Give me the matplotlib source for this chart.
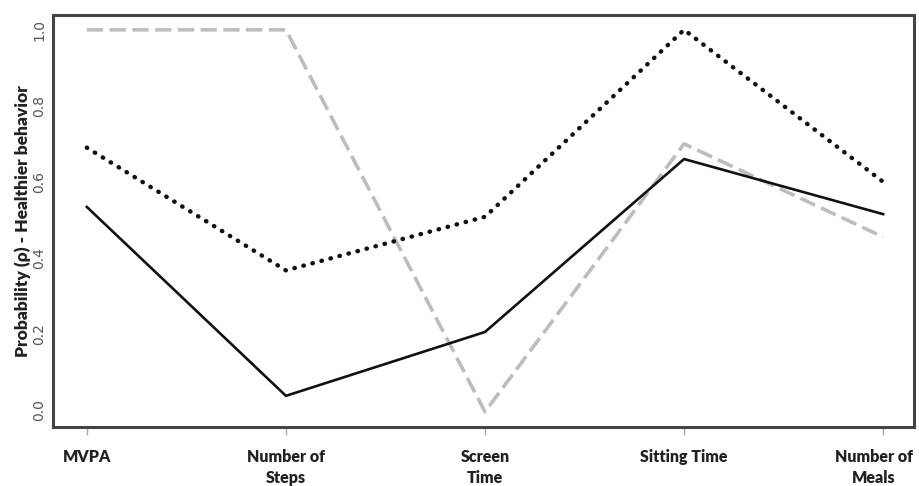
import matplotlib
matplotlib.use("Agg")
import matplotlib.pyplot as plt
from matplotlib.transforms import ScaledTranslation

categories = ["MVPA", "Number of\nSteps", "Screen\nTime", "Sitting Time", "Number of\nMeals"]
solid_vals = [0.534, 0.037, 0.205, 0.66, 0.515]
dotted_vals = [0.69, 0.367, 0.508, 1.0, 0.60]
dashed_vals = [1.0, 1.0, -0.005, 0.70, 0.455]
yticks = [0.0, 0.2, 0.4, 0.6, 0.8, 1.0]
ytick_labels = ["0.0", "0.2", "0.4", "0.6", "0.8", "1.0"]

fig = plt.figure(figsize=(9.19, 4.86), dpi=100)
ax = fig.add_axes([53/919, 59/486, (914-53)/919, (427-15)/486])

x = list(range(len(categories)))
ax.plot(x, dashed_vals, color="#bdbdbd", lw=2.6, linestyle=(0, (4.5, 1.8)), solid_joinstyle="miter")
ax.plot(x, dotted_vals, color="#111111", lw=3.2, linestyle=(0, (0.1, 2.0)), dash_capstyle="round")
ax.plot(x, solid_vals, color="#111111", lw=1.9)

ax.set_xlim(-0.17, 4.155)
ax.set_ylim(-0.045, 1.039)

ax.set_xticks(x)
ax.set_xticklabels(categories, fontfamily="Lato", fontweight="heavy", fontsize=11.5, color="#222222", linespacing=1.4)
ax.tick_params(axis="x", length=6, width=1.0, color="#aaaaaa", pad=10)
last = ax.get_xticklabels()[-1]
last.set_transform(last.get_transform() + ScaledTranslation(-9/100, 0, fig.dpi_scale_trans))

ax.set_yticks(yticks)
ax.set_yticklabels(ytick_labels, rotation=90, va="center", fontsize=10, color="#555555")
ax.tick_params(axis="y", length=0, pad=5)

ax.set_ylabel("Probability (ρ) - Healthier behavior", fontfamily="Lato", fontweight="heavy", fontsize=12.5, color="#222222", labelpad=1)

for s in ax.spines.values():
    s.set_linewidth(2.2)
    s.set_color("#444444")

fig.savefig("out.png", dpi=100)
